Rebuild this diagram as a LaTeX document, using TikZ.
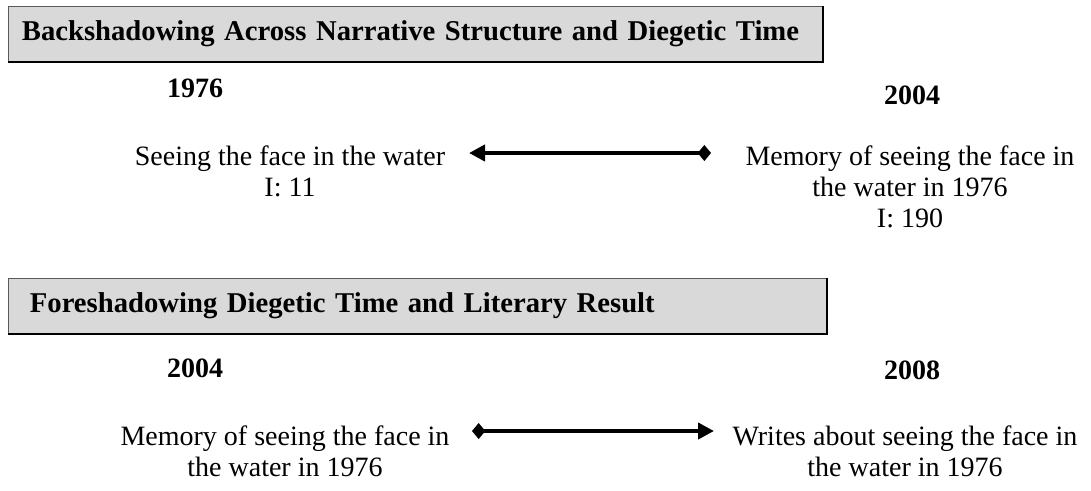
\documentclass[tikz,border=0pt]{standalone}
\usepackage{fontspec}
\setmainfont{Liberation Serif}
\usetikzlibrary{positioning, arrows.meta}

\begin{document}
\begin{tikzpicture}[
        x=0.75pt, y=-0.75pt,
        head/.style  = {draw=black!65, line width=0.9pt, fill=black!15, anchor=north west, minimum height=41.25pt, inner xsep=10pt, text width=590.5pt, align=left, font=\fontsize{21.5}{24}\selectfont\bfseries},
        edge/.style  = {black, line width=1.6pt},
        year/.style  = {font=\fontsize{21}{24}\selectfont\bfseries},
        event/.style = {anchor=north, inner sep=0pt, align=center, font=\fontsize{21}{23}\selectfont},
        link/.style  = {line width=3pt},
    ]
        \useasboundingbox (0,0) rectangle (1091,490);
        % Backshadowing
        \node[head] (back) at (8,6) {Backshadowing Across Narrative Structure and Diegetic Time};
        \node[year] (yra) at (195,88) {1976};
        \node[year] (yrb) at (912,95) {2004};
        \node[event] (seen) at (290,146) {Seeing the face in the water\\I: 11};
        \node[event] (mem) at (910,146) {Memory of seeing the face in\\the water in 1976\\I: 190};
        \coordinate (a1s) at (469,153);
        \coordinate (a1e) at (711,153);
        % Foreshadowing
        \node[head, inner xsep=16pt, text width=581.5pt] (fore) at (8,278) {Foreshadowing Diegetic Time and Literary Result};
        \node[year] (yrc) at (195,368) {2004};
        \node[year] (yrd) at (912,370) {2008};
        \node[event] (recall) at (285,426) {Memory of seeing the face in\\the water in 1976};
        \node[event] (write) at (905,426) {Writes about seeing the face in\\the water in 1976};
        \coordinate (a2s) at (472,431);
        \coordinate (a2e) at (714,431);

        % Box edges
        \draw[edge] (back.north east) -- (back.south east) -- (back.south west);
        \draw[edge] (fore.north east) -- (fore.south east) -- (fore.south west);
        % Arrows
        \draw[link, {Triangle[length=12pt, width=12pt]}-{Diamond[length=10pt, width=12pt]}] (a1s) -- (a1e);
        \draw[link, {Diamond[length=10pt, width=12pt]}-{Triangle[length=12pt, width=12pt]}] (a2s) -- (a2e);
    \end{tikzpicture}
\end{document}
